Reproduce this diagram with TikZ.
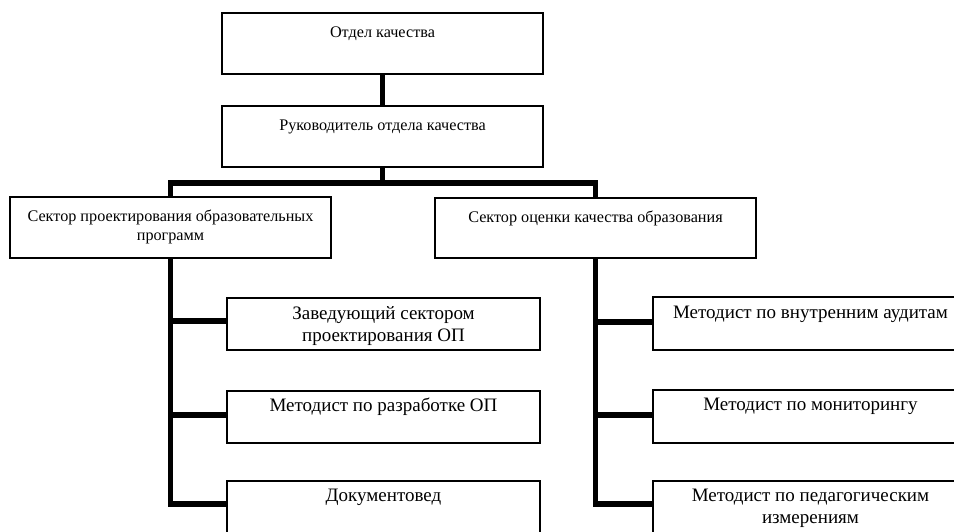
\documentclass[tikz,border=0pt]{standalone}
\usepackage{fontspec}
\setmainfont{Liberation Serif}
\begin{document}
\begin{tikzpicture}[x=1pt,y=-1pt,
  box/.style={draw, line width=1.6pt, rectangle, inner sep=0pt},
  conn/.style={line width=5.5pt, line join=miter},
  smalltxt/.style={anchor=north, inner sep=0pt, align=center, font=\fontsize{16.2}{19.5}\selectfont},
  bigtxt/.style={anchor=north, inner sep=0pt, align=center, font=\fontsize{19}{22}\selectfont}]
\useasboundingbox (0,0) rectangle (954,531);
\clip (0,0) rectangle (954,531);
% boxes
\node[box, minimum width=321pt, minimum height=61pt] (top) at (382.5,43.5) {};
\node[box, minimum width=321pt, minimum height=61pt] (mgr) at (382.5,136.5) {};
\node[box, minimum width=321pt, minimum height=61pt] (secL) at (170.5,227.5) {};
\node[box, minimum width=321pt, minimum height=60pt] (secR) at (595.5,228) {};
\node[box, minimum width=313pt, minimum height=52pt] (L1) at (383.5,324) {};
\node[box, minimum width=313pt, minimum height=52pt] (L2) at (383.5,417) {};
\node[box, minimum width=313pt, minimum height=60pt] (L3) at (383.5,511) {};
\node[box, minimum width=315pt, minimum height=53pt] (R1) at (810.5,323.5) {};
\node[box, minimum width=315pt, minimum height=53pt] (R2) at (810.5,416.5) {};
\node[box, minimum width=315pt, minimum height=60pt] (R3) at (810.5,511) {};
% texts
\node[smalltxt] (tTop) at ([yshift=-11.4pt]top.north) {\strut Отдел качества};
\node[smalltxt] (tMgr) at ([yshift=-11.4pt]mgr.north) {\strut Руководитель отдела качества};
\node[smalltxt] (tSecL) at ([yshift=-11.4pt]secL.north) {\strut Сектор проектирования образовательных\\программ};
\node[smalltxt] (tSecR) at ([yshift=-11.4pt]secR.north) {\strut Сектор оценки качества образования};
\node[bigtxt] (tL1) at ([yshift=-7pt]L1.north) {\strut Заведующий сектором\\проектирования ОП};
\node[bigtxt] (tL2) at ([yshift=-6pt]L2.north) {\strut Методист по разработке ОП};
\node[bigtxt] (tL3) at ([yshift=-6pt]L3.north) {\strut Документовед};
\node[bigtxt] (tR1) at ([yshift=-7pt]R1.north) {\strut Методист по внутренним аудитам};
\node[bigtxt] (tR2) at ([yshift=-6pt]R2.north) {\strut Методист по мониторингу};
\node[bigtxt] (tR3) at ([yshift=-6pt]R3.north) {\strut Методист по педагогическим\\измерениям};
% connectors
\coordinate (barL) at (170.5,183);
\coordinate (barR) at (595.5,183);
\draw[conn] (top.south) -- (mgr.north);
\draw[conn] (mgr.south) -- (mgr.south |- barL);
\draw[conn] (secL.north) -- (barL) -- (barR) -- (secR.north);
\draw[conn] (secL.south) -- (secL.south |- 0,504) -- (L3.west |- 0,504);
\draw[conn] (secL.south |- 0,321) -- (L1.west |- 0,321);
\draw[conn] (secL.south |- 0,415) -- (L2.west |- 0,415);
\draw[conn] (secR.south) -- (secR.south |- 0,504) -- (R3.west |- 0,504);
\draw[conn] (secR.south |- 0,322) -- (R1.west |- 0,322);
\draw[conn] (secR.south |- 0,415) -- (R2.west |- 0,415);
\end{tikzpicture}
\end{document}
